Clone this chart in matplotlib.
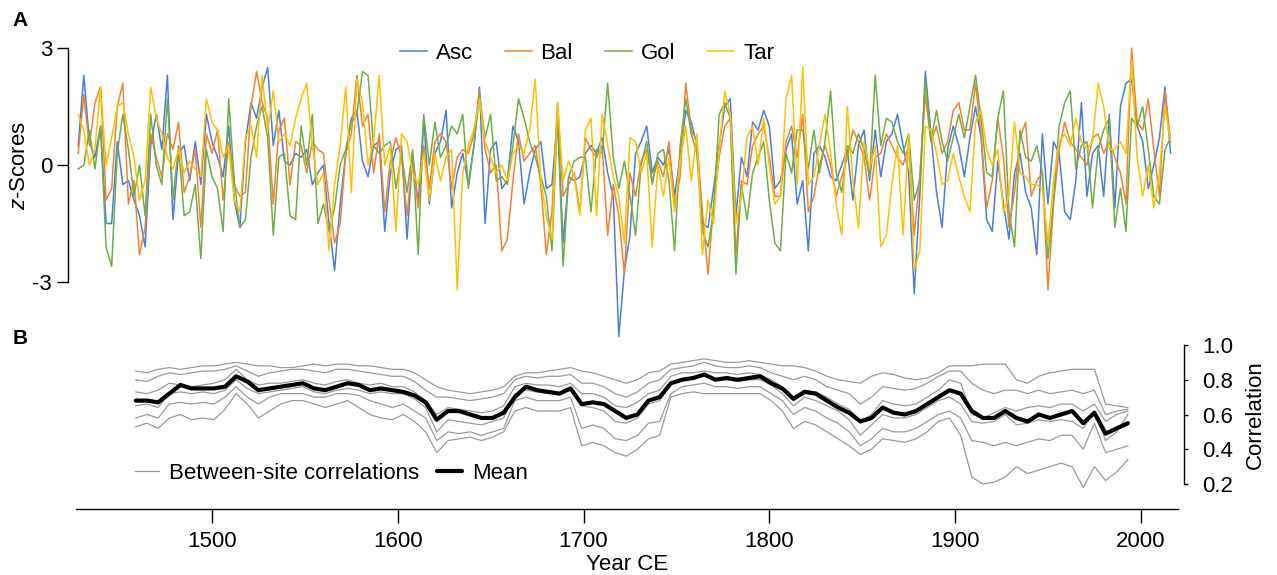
import matplotlib
matplotlib.use("Agg")
import matplotlib.pyplot as plt
import numpy as np

plt.rcParams["font.family"] = ["Liberation Sans", "DejaVu Sans"]
plt.rcParams["mathtext.fontset"] = "custom"
plt.rcParams["mathtext.rm"] = "Liberation Sans"
plt.rcParams["mathtext.it"] = "Liberation Sans:italic"
plt.rcParams["axes.unicode_minus"] = False

# --- panel A: site z-scores (read every third year) ---
years_a = np.arange(1428, 2017, 3)
asc = [0.5, 2.3, 0.6, 0.2, 1.0, -1.5, -1.5, 0.6, -0.5, -0.4,
       -0.9, -1.3, -2.1, 0.5, 1.3, 0.4, 2.3, -1.4, 0.3, 0.5,
       -0.4, 0.6, -0.5, 1.3, 0.6, 0.2, -0.3, 1.0, -0.9, -1.6,
       0.6, 1.6, 1.2, 2.0, 2.5, 0.5, 1.4, 0.1, 0.0,
       0.3, 0.2, 0.4, -0.5, -0.2, 0.0, -1.5, -2.7, -1.0, 0.3,
       1.2, 1.4, 0.1, -0.3, 0.5, 0.6, -1.7, -0.2, 0.4, 0.5,
       -1.9, 0.3, -1.0, 1.2, -1.0, 0.3, 0.6, 1.4, -1.1, -0.2,
       0.3, -0.5, 0.5, 2.0, -1.5, 0.4, 0.6, -0.6, -0.4, 1.0,
       0.6, -1.0, -0.2, 0.4, 0.6, -0.6, -0.5, 1.2, -2.0, -0.3,
       -0.4, -0.3, 0.3, 0.5, 0.3, 0.7, -0.2, -0.8, -4.4, -2.7,
       -1.8, 0.3, 0.6, 1.0, -0.2, 0.2, 0.0, 0.4, -0.8, 0.2,
       1.4, 1.1, 0.5, -1.5, -1.6, -0.6, 0.5, 1.5, 1.7,
       -1.3, 0.2, -0.3, 1.1, 0.9, 1.4, 1.0, -0.6, -0.4, 0.4,
       0.8, -1.0, -0.4, -2.2, 0.3, 0.5, 0.2, -0.3, -0.4, 0.0,
       0.4, -0.9, 0.5, 0.9, -0.4, 0.9, -0.3, 0.6, 0.8, 1.3,
       0.5, -0.2, -3.3, -0.8, 2.4, 0.8, -0.7, -1.6, 0.4, 1.0,
       0.5, -0.3, 0.7, 1.5, 0.7, -1.4, -1.7, 0.1, -1.0, -1.9,
       -0.2, 0.3, -0.7, -1.1, -2.3, 0.8, -1.0, 0.6, 0.3, -1.2,
       -1.4, -0.4, 1.6, -0.8, 0.3, 0.5, -0.8, 1.3, -1.1, 1.5,
       2.1, 2.2, 1.0, 0.6, -0.6, 0.0, 0.7, 2.0, 0.3]
bal = [0.3, 1.8, 0.5, 1.6, 2.0, -0.9, -0.6, 1.5, 2.1, -1.0,
       -0.4, -2.3, -1.6, 0.8, 0.2, -0.3, 0.8, 0.4, 1.1, -0.7,
       -0.3, 0.4, -1.6, 0.8, 0.3, 0.9, -0.9, 0.6, -0.5, -0.8,
       -0.7, 1.5, 2.4, 1.6, 1.2, -1.0, 0.9, 1.2, -0.5,
       0.6, 0.5, -0.2, 0.6, 0.4, 0.3, -0.9, -2.0, -1.5, 0.3,
       0.8, 2.3, 1.0, 1.3, -0.2, 0.8, -1.2, 0.1, 0.7, 0.2,
       -1.3, 0.2, -1.1, 0.5, -0.6, 0.6, 0.8, 0.6, -0.6, 0.2,
       0.4, 0.3, 0.8, 1.9, 0.4, -0.2, 0.0, -2.2, -1.9, -0.4,
       0.8, 0.1, 0.3, 0.5, -0.5, -2.3, -1.2, 1.6, -0.8, -0.5,
       -0.2, -1.2, 0.7, 0.4, 0.2, 0.5, -1.8, -0.5, -1.3, -2.8,
       -0.2, -0.8, 0.1, 0.4, -0.4, 0.1, -0.3, 0.6, -1.0, -0.3,
       2.1, 0.9, 0.6, -1.2, -2.8, -1.0, 0.2, 1.0, 1.2,
       -2.3, -0.4, -0.5, 0.5, 0.8, 1.0, 0.2, -0.8, -0.8, 0.6,
       1.0, 0.2, 1.3, -1.2, -0.8, 0.0, 0.5, 0.0, -0.8, -0.3,
       0.2, 0.9, 0.6, 0.2, -0.9, 0.2, 0.3, 0.8, 0.5, 0.2,
       0.0, 0.5, -1.8, -0.3, 1.8, 0.6, 1.0, 0.3, 0.6, 1.4,
       1.6, 0.9, 0.9, 2.1, 0.8, -1.1, -0.4, 1.2, 0.2, -1.6,
       -0.7, 0.7, 1.1, -0.8, -0.4, -0.2, -3.2, -1.0, 0.4, 1.1,
       0.6, 0.4, 0.2, 0.0, 0.7, 0.8, 0.3, 0.6, 0.2, -0.2,
       -1.0, 3.0, 1.1, 0.9, 1.7, 0.4, -0.8, 1.9, 0.6]
gol = [-0.1, 0.0, 0.9, -0.1, 1.0, -2.1, -2.6, 0.3, 1.3, 0.4,
       -0.8, 0.0, -1.3, 1.3, 0.0, -0.5, 1.7, -0.9, 0.5, -1.3,
       -1.2, -0.5, -2.4, 0.4, -0.3, -0.6, -1.7, 1.7, -0.4, -1.6,
       -1.4, 0.2, 1.0, 1.5, 0.7, -1.8, 0.2, 0.3, -1.3,
       -1.4, 1.0, 0.0, 1.3, -1.5, -1.0, -1.7, -1.1, 0.0, 0.4,
       1.1, 1.3, 2.4, 2.3, 0.5, 0.3, 0.5, 0.6, -0.6, 0.3,
       -0.7, 0.4, -2.3, 1.3, 0.0, 1.1, 0.2, 0.5, 1.0, 0.8,
       1.3, -0.6, 0.5, 1.8, 0.7, 1.3, -0.4, -0.3, -0.5, 0.5,
       1.7, 1.2, 0.6, 0.2, -0.3, -0.8, -2.2, 1.3, -2.6, -0.3,
       0.1, 0.2, 0.2, -1.2, 0.4, 0.3, 2.1, 0.2, -0.6, 0.1,
       -0.8, -1.8, 0.0, 0.6, -0.5, 0.3, 0.4, -0.4, -2.2, 0.5,
       1.7, 0.8, 0.3, -1.7, -2.1, -1.2, 1.3, 1.6, 1.2,
       -2.8, -0.5, -1.4, -0.2, 0.2, 0.6, -0.9, -2.0, -2.2, 0.3,
       -0.2, 0.9, 0.9, -0.1, 0.9, -0.2, 0.6, 1.9, -0.2, -0.7,
       0.5, 0.3, 0.8, 0.4, -0.3, 2.3, 0.5, 1.2, 1.1, 0.6,
       0.3, 0.8, -0.9, -0.4, 2.2, 0.6, 1.4, 0.6, 0.1, 0.7,
       1.3, 0.7, 1.5, 2.3, 1.2, -0.2, -0.3, 1.2, 1.9, -1.2,
       -2.1, 0.9, 0.2, 0.1, 0.5, -0.2, -2.4, -0.9, 1.0, 1.6,
       1.9, -0.1, 0.5, 0.6, -1.1, 0.4, 0.9, 1.2, -1.6, -0.6,
       -1.7, 1.2, 1.0, 1.5, 0.4, -0.8, -1.0, 0.4, 0.7]
tar = [1.3, 0.9, 0.0, 0.4, 2.0, 0.0, 0.7, 1.5, 1.6, 0.8,
       0.2, -0.9, -0.4, 2.0, 1.2, 0.8, 0.2, -0.1, 0.4, -0.2,
       0.1, -0.1, -0.3, 1.7, 1.1, 0.9, 0.2, 0.5, -0.9, -1.2,
       0.7, 1.0, 0.2, 2.3, 0.9, 1.9, 0.6, 0.8, 0.5,
       1.2, 1.7, 2.1, 0.5, -0.5, -0.2, -2.2, -0.5, 0.5, 2.0,
       -0.7, 2.2, 1.6, 0.0, 0.6, 2.3, 0.0, 0.5, -1.7, 0.8,
       0.6, -0.2, -0.5, 0.3, -0.9, 0.3, -0.4, 0.2, 0.4, -3.2,
       -0.2, 0.5, 0.9, 1.7, 0.6, 0.2, -0.2, 0.0, -0.4, 0.3,
       0.5, 0.3, 0.9, 2.2, -0.4, -1.3, -1.9, 1.6, -0.4, 0.1,
       -0.3, -1.3, 0.9, 1.2, -1.3, 1.3, 0.5, -0.3, -0.8, -2.0,
       0.7, 0.6, -0.2, 0.3, -2.1, 0.0, -0.8, 0.2, -1.2, 0.1,
       1.0, -0.4, 0.8, -2.3, -0.9, -1.5, 0.4, 1.9, 1.3,
       -1.5, -0.8, 0.7, 1.0, 0.0, 1.2, 0.0, -1.0, -0.8, 1.7,
       2.3, -0.5, 2.5, -0.5, -0.3, 0.5, 1.3, 0.3, -1.0, -1.8,
       1.5, -0.4, -1.6, 0.6, -0.1, 0.5, -2.1, -1.8, -0.5, 0.5,
       -1.8, 0.8, -2.7, -2.2, 1.0, 0.9, 0.3, -0.5, -0.4, 0.3,
       -0.3, -0.8, -1.2, 1.1, 1.4, 0.4, 0.0, 0.4, -1.2, -0.8,
       1.1, -0.2, -0.3, -0.5, -0.5, -0.6, -2.0, -0.4, 0.6, 0.8,
       0.5, 1.2, 0.6, 0.4, 0.6, 2.1, 1.5, 0.4, 0.4, 0.6,
       0.3, 2.7, 0.2, -0.8, 0.0, -1.1, -0.2, 1.5, 0.6]

site_names = ["Asc", "Bal", "Gol", "Tar"]
site_colors = ["#4A7EDA", "#EE8434", "#70AD47", "#FFC000"]

# --- panel B: running between-site correlations (read every sixth year) ---
years_b = np.arange(1459, 1994, 6)
pair_1 = [0.85, 0.84, 0.86, 0.87, 0.86, 0.87, 0.88, 0.88, 0.89, 0.90,
          0.89, 0.88, 0.88, 0.87, 0.87, 0.88, 0.89, 0.88, 0.89, 0.89,
          0.88, 0.88, 0.87, 0.86, 0.86, 0.84, 0.80, 0.76, 0.74, 0.73,
          0.72, 0.73, 0.74, 0.76, 0.82, 0.84, 0.84, 0.85, 0.86, 0.87,
          0.85, 0.84, 0.82, 0.80, 0.78, 0.80, 0.84, 0.85, 0.89, 0.90,
          0.91, 0.92, 0.91, 0.90, 0.90, 0.91, 0.90, 0.89, 0.88, 0.88,
          0.87, 0.85, 0.82, 0.80, 0.79, 0.78, 0.82, 0.84, 0.83, 0.81,
          0.80, 0.81, 0.84, 0.88, 0.88, 0.88, 0.89, 0.89, 0.89, 0.80,
          0.78, 0.82, 0.84, 0.85, 0.86, 0.86, 0.86, 0.66, 0.65, 0.64]
pair_2 = [0.80, 0.79, 0.82, 0.84, 0.83, 0.84, 0.85, 0.85, 0.86, 0.88,
          0.85, 0.82, 0.84, 0.85, 0.86, 0.86, 0.85, 0.84, 0.86, 0.86,
          0.85, 0.84, 0.83, 0.82, 0.82, 0.79, 0.74, 0.70, 0.70, 0.69,
          0.68, 0.69, 0.70, 0.72, 0.80, 0.82, 0.81, 0.82, 0.82, 0.83,
          0.78, 0.78, 0.76, 0.72, 0.70, 0.73, 0.78, 0.80, 0.86, 0.87,
          0.88, 0.90, 0.88, 0.87, 0.87, 0.88, 0.87, 0.84, 0.82, 0.80,
          0.82, 0.80, 0.76, 0.74, 0.72, 0.66, 0.70, 0.76, 0.75, 0.74,
          0.75, 0.78, 0.82, 0.85, 0.85, 0.78, 0.74, 0.72, 0.74, 0.74,
          0.72, 0.74, 0.72, 0.73, 0.74, 0.72, 0.74, 0.60, 0.62, 0.63]
pair_3 = [0.73, 0.72, 0.74, 0.78, 0.77, 0.76, 0.77, 0.78, 0.80, 0.86,
          0.80, 0.77, 0.78, 0.78, 0.79, 0.80, 0.78, 0.77, 0.79, 0.80,
          0.78, 0.77, 0.78, 0.76, 0.76, 0.73, 0.68, 0.60, 0.64, 0.63,
          0.62, 0.61, 0.62, 0.65, 0.76, 0.78, 0.77, 0.77, 0.76, 0.78,
          0.72, 0.72, 0.70, 0.65, 0.64, 0.67, 0.72, 0.74, 0.82, 0.84,
          0.84, 0.85, 0.84, 0.84, 0.83, 0.84, 0.83, 0.80, 0.76, 0.70,
          0.74, 0.73, 0.70, 0.66, 0.63, 0.56, 0.60, 0.68, 0.66, 0.65,
          0.66, 0.70, 0.74, 0.80, 0.78, 0.60, 0.58, 0.61, 0.64, 0.62,
          0.64, 0.65, 0.64, 0.66, 0.66, 0.62, 0.66, 0.56, 0.60, 0.62]
pair_4 = [0.65, 0.66, 0.64, 0.72, 0.73, 0.72, 0.73, 0.72, 0.74, 0.80,
          0.75, 0.72, 0.73, 0.74, 0.75, 0.76, 0.73, 0.72, 0.74, 0.75,
          0.74, 0.72, 0.73, 0.72, 0.72, 0.69, 0.64, 0.50, 0.57, 0.56,
          0.55, 0.54, 0.56, 0.58, 0.72, 0.74, 0.73, 0.72, 0.72, 0.74,
          0.65, 0.64, 0.62, 0.56, 0.55, 0.58, 0.66, 0.68, 0.78, 0.80,
          0.81, 0.82, 0.80, 0.80, 0.79, 0.80, 0.80, 0.77, 0.72, 0.65,
          0.70, 0.68, 0.65, 0.62, 0.57, 0.48, 0.54, 0.60, 0.58, 0.58,
          0.60, 0.64, 0.68, 0.70, 0.66, 0.56, 0.55, 0.56, 0.60, 0.54,
          0.55, 0.57, 0.56, 0.57, 0.56, 0.52, 0.62, 0.45, 0.50, 0.60]
pair_5 = [0.58, 0.60, 0.58, 0.66, 0.67, 0.66, 0.67, 0.66, 0.70, 0.76,
          0.70, 0.66, 0.70, 0.72, 0.72, 0.72, 0.70, 0.70, 0.72, 0.72,
          0.71, 0.68, 0.66, 0.64, 0.66, 0.62, 0.58, 0.45, 0.50, 0.49,
          0.50, 0.48, 0.50, 0.52, 0.68, 0.70, 0.68, 0.68, 0.68, 0.70,
          0.52, 0.54, 0.52, 0.46, 0.45, 0.48, 0.55, 0.56, 0.72, 0.76,
          0.77, 0.78, 0.76, 0.76, 0.75, 0.76, 0.76, 0.72, 0.68, 0.60,
          0.64, 0.62, 0.58, 0.55, 0.50, 0.42, 0.46, 0.52, 0.50, 0.50,
          0.52, 0.56, 0.60, 0.62, 0.58, 0.45, 0.44, 0.42, 0.44, 0.42,
          0.44, 0.46, 0.45, 0.48, 0.48, 0.40, 0.55, 0.38, 0.40, 0.42]
pair_6 = [0.53, 0.55, 0.52, 0.58, 0.60, 0.57, 0.58, 0.57, 0.63, 0.72,
          0.66, 0.58, 0.62, 0.66, 0.68, 0.68, 0.66, 0.64, 0.66, 0.68,
          0.64, 0.60, 0.58, 0.57, 0.60, 0.56, 0.50, 0.38, 0.45, 0.46,
          0.47, 0.45, 0.47, 0.50, 0.62, 0.64, 0.62, 0.62, 0.62, 0.64,
          0.42, 0.44, 0.42, 0.38, 0.36, 0.40, 0.46, 0.48, 0.70, 0.72,
          0.73, 0.72, 0.72, 0.72, 0.72, 0.72, 0.72, 0.68, 0.62, 0.52,
          0.56, 0.54, 0.50, 0.46, 0.42, 0.37, 0.40, 0.46, 0.45, 0.44,
          0.46, 0.50, 0.56, 0.58, 0.48, 0.24, 0.20, 0.21, 0.24, 0.30,
          0.26, 0.28, 0.30, 0.32, 0.30, 0.18, 0.30, 0.22, 0.27, 0.34]
mean_corr = [0.68, 0.68, 0.67, 0.72, 0.77, 0.75, 0.75, 0.75, 0.76, 0.82,
             0.79, 0.74, 0.75, 0.76, 0.77, 0.78, 0.75, 0.74, 0.76, 0.78,
             0.77, 0.74, 0.75, 0.74, 0.73, 0.71, 0.67, 0.57, 0.62, 0.62,
             0.60, 0.58, 0.58, 0.61, 0.70, 0.76, 0.74, 0.73, 0.72, 0.75,
             0.66, 0.67, 0.66, 0.62, 0.58, 0.60, 0.68, 0.70, 0.78, 0.80,
             0.81, 0.83, 0.80, 0.81, 0.80, 0.81, 0.82, 0.78, 0.75, 0.69,
             0.73, 0.72, 0.68, 0.64, 0.61, 0.56, 0.58, 0.64, 0.61, 0.60,
             0.62, 0.66, 0.70, 0.74, 0.72, 0.62, 0.58, 0.58, 0.62, 0.58,
             0.56, 0.60, 0.58, 0.60, 0.62, 0.55, 0.61, 0.49, 0.52, 0.55]

W, H = 1277, 575
FS = 16


def box(x0, y0, x1, y1):
    return [x0 / W, 1 - y1 / H, (x1 - x0) / W, (y1 - y0) / H]


fig = plt.figure(figsize=(W / 100, H / 100), dpi=100)
xlim = (1426.8, 2020.0)

# panel A
ax_a = fig.add_axes(box(76, 36, 1178, 340))
for vals, name, col in zip([asc, bal, gol, tar], site_names, site_colors):
    ax_a.plot(years_a, vals, color=col, lw=1.1, label=name)
ax_a.set_xlim(*xlim)
ax_a.set_ylim(-4.487, 3.31)
for s in ["top", "right", "bottom"]:
    ax_a.spines[s].set_visible(False)
ax_a.spines["left"].set_position(("outward", 5.8))
ax_a.spines["left"].set_bounds(-3, 3)
ax_a.spines["left"].set_linewidth(1.0)
ax_a.set_yticks([-3, 0, 3])
ax_a.set_xticks([])
ax_a.tick_params(axis="y", length=7.9, width=1.0, labelsize=FS, pad=3.5)
ax_a.legend(loc="center", bbox_to_anchor=(0.4637, 0.944), ncol=4, frameon=False,
            fontsize=FS, handlelength=1.2, handletextpad=0.4, columnspacing=1.45,
            borderpad=0)

# panel B
ax_b = fig.add_axes(box(76, 340, 1178, 509))
ax_b.patch.set_alpha(0)
for i, vals in enumerate([pair_1, pair_2, pair_3, pair_4, pair_5, pair_6]):
    ax_b.plot(years_b, vals, color="#9a9a9a", lw=0.9,
              label="Between-site correlations" if i == 0 else None)
ax_b.plot(years_b, mean_corr, color="black", lw=3.0, label="Mean",
          solid_joinstyle="round", solid_capstyle="round")
ax_b.set_xlim(*xlim)
ax_b.set_ylim(0.0561, 1.0288)
for s in ["top", "left"]:
    ax_b.spines[s].set_visible(False)
ax_b.spines["right"].set_position(("outward", 4.3))
ax_b.spines["right"].set_bounds(0.2, 1.0)
ax_b.spines["right"].set_linewidth(1.0)
ax_b.spines["bottom"].set_linewidth(1.0)
ax_b.yaxis.tick_right()
ax_b.set_yticks([0.2, 0.4, 0.6, 0.8, 1.0])
ax_b.set_yticklabels(["0.2", "0.4", "0.6", "0.8", "1.0"])
ax_b.tick_params(axis="y", length=3, width=1.0, labelsize=FS, pad=10)
ax_b.set_xticks([1500, 1600, 1700, 1800, 1900, 2000])
ax_b.tick_params(axis="x", length=10, width=1.0, labelsize=FS, pad=5.8)
ax_b.legend(loc="center left", bbox_to_anchor=(0.0535, 0.213), ncol=2, frameon=False,
            fontsize=FS, handlelength=1.1, handletextpad=0.45, columnspacing=0.8,
            borderpad=0, borderaxespad=0)

# labels
fig.text(20 / W, 1 - 165 / H, r"$\it{z}$-Scores", rotation=90, ha="center", va="center", fontsize=FS)
fig.text(1255 / W, 1 - 415 / H, "Correlation", rotation=90, ha="center", va="center", fontsize=FS)
fig.text(627 / W, 1 - 565 / H, "Year CE", ha="center", va="center", fontsize=FS)
fig.text(20 / W, 1 - 21 / H, "A", ha="center", va="center", fontsize=15, fontweight="bold")
fig.text(20 / W, 1 - 339 / H, "B", ha="center", va="center", fontsize=15, fontweight="bold")

fig.savefig("out.png", dpi=100)
